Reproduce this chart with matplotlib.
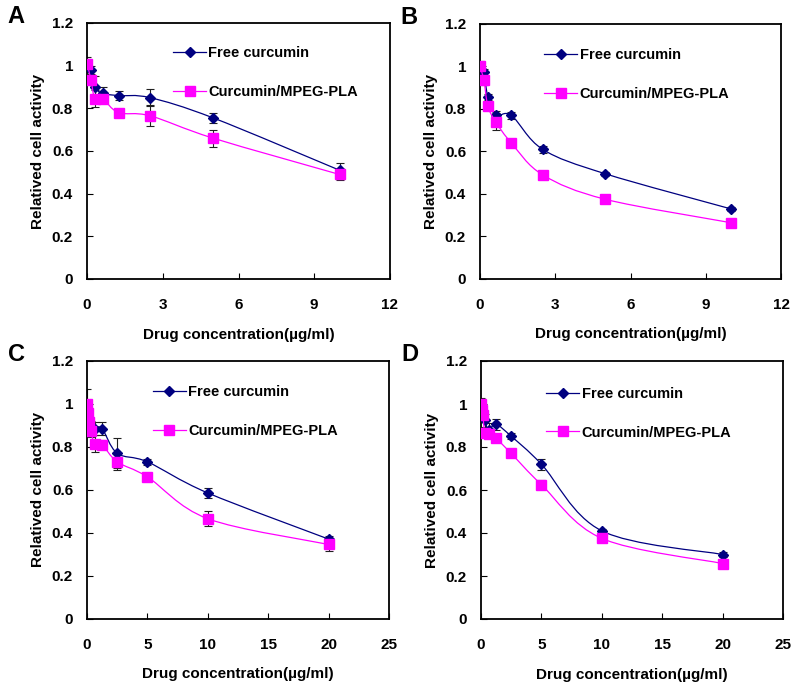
import numpy as np
import matplotlib
matplotlib.use("Agg")
import matplotlib.pyplot as plt
from matplotlib.path import Path
from matplotlib.patches import PathPatch
from matplotlib.lines import Line2D

plt.rcParams['font.family'] = ['Liberation Sans', 'DejaVu Sans']
plt.rcParams['font.weight'] = 'bold'

# concentrations (ug/ml)
conc_ab = [0, 0.156, 0.3125, 0.625, 1.25, 2.5, 5, 10]
conc_cd = [0, 0.078, 0.156, 0.3125, 0.625, 1.25, 2.5, 5, 10, 20]

# panel A
a_free = [1.00, 0.98, 0.90, 0.87, 0.86, 0.85, 0.755, 0.51]
a_free_err = [0.03, 0.02, 0.05, 0.03, 0.02, 0.04, 0.025, 0.035]
a_mpeg = [1.01, 0.935, 0.845, 0.845, 0.78, 0.765, 0.66, 0.49]
a_mpeg_err = [0.03, 0.02, 0.04, 0.02, 0.01, 0.05, 0.04, 0.025]

# panel B
b_free = [1.00, 0.975, 0.855, 0.77, 0.77, 0.61, 0.495, 0.33]
b_free_err = [0.02, 0.015, 0.015, 0.02, 0.015, 0.015, 0.01, 0.01]
b_mpeg = [1.00, 0.935, 0.815, 0.74, 0.64, 0.49, 0.375, 0.265]
b_mpeg_err = [0.025, 0.02, 0.01, 0.04, 0.015, 0.015, 0.01, 0.01]

# panel C
c_free = [1.00, 0.96, 0.92, 0.89, 0.885, 0.885, 0.77, 0.73, 0.585, 0.37]
c_free_err = [0.07, 0.04, 0.04, 0.03, 0.03, 0.03, 0.07, 0.015, 0.025, 0.015]
c_mpeg = [1.00, 0.96, 0.915, 0.875, 0.815, 0.81, 0.73, 0.66, 0.465, 0.345]
c_mpeg_err = [0.02, 0.02, 0.03, 0.03, 0.04, 0.02, 0.04, 0.01, 0.035, 0.03]

# panel D
d_free = [1.00, 0.98, 0.95, 0.925, 0.88, 0.905, 0.85, 0.72, 0.41, 0.30]
d_free_err = [0.03, 0.03, 0.03, 0.03, 0.03, 0.025, 0.015, 0.025, 0.01, 0.01]
d_mpeg = [1.00, 0.97, 0.95, 0.865, 0.86, 0.84, 0.77, 0.625, 0.375, 0.258]
d_mpeg_err = [0.02, 0.02, 0.02, 0.02, 0.02, 0.015, 0.015, 0.02, 0.01, 0.01]

y_ticks = [0, 0.2, 0.4, 0.6, 0.8, 1.0, 1.2]
y_ticklabels = ["0", "0.2", "0.4", "0.6", "0.8", "1", "1.2"]

NAVY = "#000080"
MAGENTA = "#FF00FF"
TICK_FS = 11
LABEL_FS = 11
LEG_FS = 10.5


def smooth_path(x, y):
    # Excel-like smoothed line (Catmull-Rom style Bezier segments)
    pts = np.column_stack([x, y]).astype(float)
    n = len(pts)
    verts = [pts[0]]
    codes = [Path.MOVETO]
    for i in range(n - 1):
        p0 = pts[i - 1] if i > 0 else pts[i]
        p1 = pts[i]
        p2 = pts[i + 1]
        p3 = pts[i + 2] if i + 2 < n else pts[i + 1]
        verts += [p1 + (p2 - p0) / 6, p2 - (p3 - p1) / 6, p2]
        codes += [Path.CURVE4] * 3
    return Path(verts, codes)


def panel(ax, letter, x, free, free_err, mpeg, mpeg_err, xmax, xstep, leg_xy):
    for yv, err, col, mk, ms, z in [(free, free_err, NAVY, "D", 5.5, 3),
                                    (mpeg, mpeg_err, MAGENTA, "s", 6.5, 4)]:
        ax.errorbar(x, yv, yerr=err, fmt="none", ecolor="#202020",
                    elinewidth=0.8, capsize=3, capthick=0.8, zorder=2)
        ax.add_patch(PathPatch(smooth_path(x, yv), facecolor="none",
                               edgecolor=col, lw=0.9, zorder=z))
        ax.plot(x, yv, ls="none", marker=mk, ms=ms, color=col, zorder=z + 1)

    ax.set_xlim(0, xmax)
    ax.set_ylim(0, 1.2)
    ax.set_xticks(np.arange(0, xmax + 0.1, xstep))
    ax.set_yticks(y_ticks)
    ax.set_yticklabels(y_ticklabels)
    ax.tick_params(direction="in", length=4, width=0.8, labelsize=TICK_FS)
    ax.tick_params(axis="x", pad=14)
    ax.tick_params(axis="y", pad=10)
    for s in ax.spines.values():
        s.set_linewidth(1.3)

    ax.set_xlabel("Drug concentration(\u00b5g/ml)", fontsize=LABEL_FS, fontweight="bold")
    ax.xaxis.set_label_coords(0.5, -0.19)
    ax.set_ylabel("Relatived cell activity", fontsize=LABEL_FS, fontweight="bold")
    ax.yaxis.set_label_coords(-0.14, 0.5)

    handles = [Line2D([], [], color=NAVY, marker="D", ms=5.5, lw=0.9),
               Line2D([], [], color=MAGENTA, marker="s", ms=6.5, lw=0.9)]
    ax.legend(handles, ["Free curcumin", "Curcumin/MPEG-PLA"], loc="upper left",
              bbox_to_anchor=leg_xy, frameon=False, fontsize=LEG_FS,
              handlelength=2.3, handletextpad=0.15, labelspacing=1.7,
              borderpad=0, borderaxespad=0)

    ax.text(-0.235, 1.025, letter, transform=ax.transAxes, fontsize=17,
            fontweight="bold", ha="center", va="center")


fig = plt.figure(figsize=(8, 6.92), dpi=100)
W, H = 800, 692


def add_axes(left, top, right, bottom):
    return fig.add_axes([left / W, 1 - bottom / H, (right - left) / W, (bottom - top) / H])


ax_a = add_axes(87, 23, 390, 279)
ax_b = add_axes(480, 24, 781, 279)
ax_c = add_axes(87, 361, 389, 618.5)
ax_d = add_axes(481, 361, 783, 619)

panel(ax_a, "A", conc_ab, a_free, a_free_err, a_mpeg, a_mpeg_err, 12, 3, (0.283, 0.91))
panel(ax_b, "B", conc_ab, b_free, b_free_err, b_mpeg, b_mpeg_err, 12, 3, (0.212, 0.905))
panel(ax_c, "C", conc_cd, c_free, c_free_err, c_mpeg, c_mpeg_err, 25, 5, (0.217, 0.905))
panel(ax_d, "D", conc_cd, d_free, d_free_err, d_mpeg, d_mpeg_err, 25, 5, (0.215, 0.90))

fig.savefig("out.png", dpi=100)
